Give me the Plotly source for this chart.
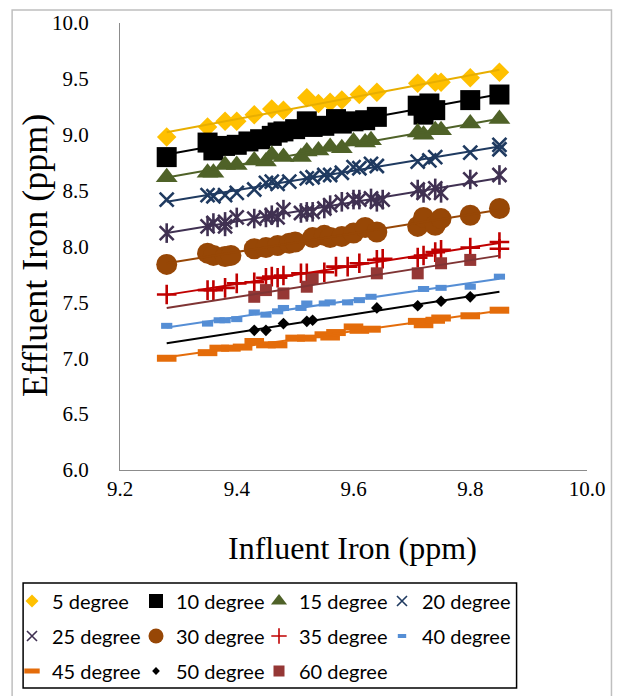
import numpy as np
import plotly.graph_objects as go

# ---------------- data ----------------
x5 = [9.28, 9.35, 9.38, 9.40, 9.43, 9.46, 9.48, 9.52, 9.54, 9.56, 9.58, 9.61, 9.64, 9.71, 9.74, 9.75, 9.80, 9.85]
y5 = [8.98, 9.07, 9.12, 9.12, 9.18, 9.23, 9.22, 9.33, 9.28, 9.29, 9.31, 9.36, 9.38, 9.46, 9.47, 9.47, 9.51, 9.56]

x10 = [9.28, 9.35, 9.36, 9.38, 9.40, 9.42, 9.44, 9.46, 9.47, 9.48, 9.50, 9.52, 9.53, 9.55, 9.57, 9.58, 9.60, 9.62, 9.64, 9.71, 9.72, 9.73, 9.74, 9.80, 9.85]
y10 = [8.80, 8.93, 8.86, 8.90, 8.91, 8.94, 8.96, 8.99, 9.02, 9.03, 9.05, 9.12, 9.07, 9.08, 9.14, 9.10, 9.12, 9.13, 9.16, 9.26, 9.18, 9.28, 9.22, 9.31, 9.36]

x15 = [9.28, 9.35, 9.36, 9.38, 9.40, 9.43, 9.45, 9.46, 9.48, 9.51, 9.52, 9.54, 9.56, 9.58, 9.60, 9.62, 9.63, 9.71, 9.72, 9.74, 9.75, 9.80, 9.85]
y15 = [8.62, 8.66, 8.66, 8.73, 8.73, 8.77, 8.76, 8.82, 8.80, 8.80, 8.85, 8.86, 8.89, 8.88, 8.94, 8.93, 8.95, 9.02, 9.00, 9.04, 9.04, 9.10, 9.14]

x20 = [9.28, 9.35, 9.36, 9.38, 9.40, 9.43, 9.45, 9.46, 9.47, 9.49, 9.52, 9.53, 9.55, 9.56, 9.58, 9.60, 9.61, 9.63, 9.64, 9.71, 9.73, 9.74, 9.80, 9.85, 9.85]
y20 = [8.42, 8.46, 8.45, 8.46, 8.48, 8.51, 8.57, 8.58, 8.56, 8.58, 8.61, 8.62, 8.64, 8.64, 8.66, 8.71, 8.70, 8.74, 8.72, 8.76, 8.77, 8.80, 8.84, 8.87, 8.91]

x25 = [9.28, 9.35, 9.36, 9.38, 9.38, 9.40, 9.43, 9.45, 9.46, 9.47, 9.48, 9.51, 9.52, 9.53, 9.55, 9.56, 9.58, 9.60, 9.61, 9.63, 9.64, 9.65, 9.71, 9.72, 9.74, 9.75, 9.80, 9.85]
y25 = [8.12, 8.18, 8.21, 8.22, 8.18, 8.26, 8.25, 8.26, 8.28, 8.26, 8.33, 8.30, 8.31, 8.31, 8.34, 8.37, 8.40, 8.42, 8.42, 8.43, 8.40, 8.42, 8.51, 8.48, 8.52, 8.48, 8.60, 8.64]

x30 = [9.28, 9.35, 9.36, 9.38, 9.39, 9.43, 9.45, 9.47, 9.49, 9.50, 9.53, 9.55, 9.56, 9.58, 9.60, 9.62, 9.64, 9.71, 9.72, 9.74, 9.75, 9.80, 9.85]
y30 = [7.84, 7.94, 7.92, 7.91, 7.92, 7.98, 7.99, 8.01, 8.03, 8.04, 8.08, 8.10, 8.08, 8.09, 8.12, 8.17, 8.13, 8.18, 8.26, 8.19, 8.25, 8.28, 8.34]

x35 = [9.28, 9.35, 9.36, 9.38, 9.40, 9.43, 9.45, 9.46, 9.47, 9.48, 9.51, 9.52, 9.55, 9.57, 9.59, 9.61, 9.64, 9.65, 9.71, 9.72, 9.74, 9.75, 9.80, 9.85, 9.85]
y35 = [7.57, 7.61, 7.61, 7.63, 7.67, 7.68, 7.72, 7.73, 7.72, 7.74, 7.76, 7.76, 7.77, 7.82, 7.82, 7.85, 7.88, 7.89, 7.90, 7.92, 7.95, 7.97, 7.99, 8.04, 7.98]

x40 = [9.28, 9.35, 9.37, 9.38, 9.40, 9.43, 9.45, 9.47, 9.48, 9.51, 9.52, 9.55, 9.56, 9.59, 9.61, 9.63, 9.72, 9.75, 9.80, 9.85]
y40 = [7.29, 7.31, 7.34, 7.34, 7.35, 7.41, 7.39, 7.42, 7.45, 7.45, 7.49, 7.49, 7.50, 7.50, 7.52, 7.55, 7.62, 7.63, 7.64, 7.73]

x45 = [9.28, 9.35, 9.37, 9.39, 9.41, 9.43, 9.45, 9.47, 9.50, 9.52, 9.55, 9.56, 9.57, 9.60, 9.61, 9.63, 9.71, 9.72, 9.74, 9.75, 9.80, 9.85]
y45 = [7.00, 7.05, 7.09, 7.09, 7.10, 7.15, 7.12, 7.12, 7.18, 7.18, 7.21, 7.19, 7.23, 7.28, 7.25, 7.26, 7.33, 7.30, 7.34, 7.36, 7.38, 7.43]

x50 = [9.43, 9.45, 9.48, 9.52, 9.53, 9.64, 9.71, 9.75, 9.80]
y50 = [7.25, 7.25, 7.31, 7.33, 7.34, 7.45, 7.47, 7.51, 7.55]

x60 = [9.43, 9.45, 9.48, 9.52, 9.53, 9.64, 9.71, 9.75, 9.80]
y60 = [7.55, 7.61, 7.58, 7.64, 7.71, 7.76, 7.76, 7.85, 7.88]

names = ["5 degree", "10 degree", "15 degree", "20 degree", "25 degree", "30 degree",
         "35 degree", "40 degree", "45 degree", "50 degree", "60 degree"]

x_ticks = [9.2, 9.4, 9.6, 9.8, 10.0]
y_ticks = [6.0, 6.5, 7.0, 7.5, 8.0, 8.5, 9.0, 9.5, 10.0]

# ---------------- styling ----------------
W, H = 623, 696
PL, PR, PT, PB = 120, 587.5, 23, 470  # plot area in pixels


def fx(p):
    return (p - PL) / (PR - PL)


def fy(p):
    return (PB - p) / (PB - PT)


styles = [
    # color, symbol, size, line width, legend symbol, legend size, legend lw
    ("#FFC000", "diamond", 15, 0, "diamond", 10, 0),
    ("#000000", "square", 20, 0, "square", 14, 0),
    ("#4F6228", "triangle-up", 19, 0, "triangle-up", 14, 0),
    ("#1F3A60", "x-thin-open", 14, 2.6, "x-thin-open", 10, 1.6),
    ("#403152", "x-thin-open", 14, 2.6, "x-thin-open", 10, 1.6),
    ("#974706", "circle", 21, 0, "circle", 15, 0),
    ("#C00000", "cross-thin-open", 14, 2.6, "cross-thin-open", 11, 1.6),
    ("#558ED5", "line-ew-open", 8, 6, "line-ew-open", 6, 4),
    ("#E46C0A", "line-ew-open", 14, 7, "line-ew-open", 11, 5),
    ("#000000", "diamond", 9, 0, "diamond", 6, 0),
    ("#953735", "square", 12, 0, "square", 11, 0),
]
trend_colors = ["#E8AE00", "#000000", "#4F6228", "#1F3A60", "#403152", "#974706",
                "#C00000", "#558ED5", "#E46C0A", "#000000", "#7F3434"]

xs = [x5, x10, x15, x20, x25, x30, x35, x40, x45, x50, x60]
ys = [y5, y10, y15, y20, y25, y30, y35, y40, y45, y50, y60]

fig = go.Figure()

# markers
for i, (name, xv, yv, st) in enumerate(zip(names, xs, ys, styles)):
    color, sym, size, lw = st[0], st[1], st[2], st[3]
    fig.add_trace(go.Scatter(
        x=xv, y=yv, mode="markers", name=name, showlegend=False,
        marker=dict(symbol=sym, size=size, color=color,
                    line=dict(width=lw, color=color)),
    ))
    if name == "25 degree":
        # vertical bar of the star marker
        fig.add_trace(go.Scatter(
            x=xv, y=yv, mode="markers", showlegend=False,
            marker=dict(symbol="line-ns-open", size=size, color=color,
                        line=dict(width=lw, color=color)),
        ))

# linear trendlines (least squares, drawn across the full influent range)
all_x = np.concatenate([np.asarray(v, dtype=float) for v in xs])
tx = np.array([all_x.min(), all_x.max()])
for i, (xv, yv) in enumerate(zip(xs, ys)):
    k, b = np.polyfit(np.asarray(xv, float), np.asarray(yv, float), 1)
    fig.add_trace(go.Scatter(
        x=tx, y=k * tx + b, mode="lines", showlegend=False, hoverinfo="skip",
        line=dict(color=trend_colors[i], width=2),
    ))

# legend entries: 4 columns x 3 rows, one legend per entry for exact placement
text_starts = [53, 177, 300, 423]
row_centers = [601, 636, 671]
layout_legends = {}
for i, (name, st) in enumerate(zip(names, styles)):
    color, lsym, lsize, llw = st[0], st[4], st[5], st[6]
    key = "legend" if i == 0 else "legend%d" % (i + 1)
    r, c = divmod(i, 4)
    fig.add_trace(go.Scatter(
        x=[None], y=[None], mode="markers", name=name, showlegend=True, legend=key,
        marker=dict(symbol=lsym, size=lsize, color=color, line=dict(width=llw, color=color)),
    ))
    layout_legends[key] = dict(
        xref="container", yref="container",
        x=(text_starts[c] - 41) / W, y=1 - row_centers[r] / H,
        xanchor="left", yanchor="middle", orientation="h",
        bgcolor="rgba(0,0,0,0)", borderwidth=0,
        font=dict(family="Lato", size=20, color="#000000"),
        itemclick=False, itemdoubleclick=False,
    )

tick_font = dict(family="Liberation Serif, Times New Roman, serif", size=21, color="#000000")
axis_common = dict(
    showline=True, linecolor="#8C8C8C", linewidth=1, showgrid=False,
    zeroline=False, ticks="", tickformat=".1f", tickfont=tick_font,
)

fig.update_layout(
    width=W, height=H,
    font=dict(family="Liberation Serif", size=21, color="#000000"),
    margin=dict(l=PL, r=W - PR, t=PT, b=H - PB, pad=0, autoexpand=False),
    paper_bgcolor="#FFFFFF", plot_bgcolor="#FFFFFF",
    xaxis=dict(range=[9.2, 10.0], tickvals=x_ticks, ticklabelstandoff=0, **axis_common),
    yaxis=dict(range=[6.0, 10.0], tickvals=y_ticks, ticklabelstandoff=26, **axis_common),
    **layout_legends,
    annotations=[
        dict(text="Influent Iron (ppm)", xref="paper", yref="paper",
             x=fx(353), y=fy(548), xanchor="center", yanchor="middle", showarrow=False,
             font=dict(family="Liberation Serif", size=32, color="#000000")),
        dict(text="Effluent Iron (ppm)", xref="paper", yref="paper", textangle=-90,
             x=fx(35), y=fy(256), xanchor="center", yanchor="middle", showarrow=False,
             font=dict(family="Liberation Serif", size=36, color="#000000")),
    ],
    shapes=[
        dict(type="rect", xref="paper", yref="paper",
             x0=fx(12), x1=fx(612), y0=fy(10), y1=fy(705),
             line=dict(color="#BFBFBF", width=1.5), fillcolor="rgba(0,0,0,0)", layer="below"),
        dict(type="rect", xref="paper", yref="paper",
             x0=fx(23), x1=fx(517), y0=fy(583), y1=fy(688),
             line=dict(color="#000000", width=1.5), fillcolor="rgba(0,0,0,0)"),
    ],
)
fig.update_xaxes(tickfont=tick_font)
fig.update_yaxes(tickfont=tick_font)

fig.write_html("out.html", config={"displayModeBar": False},
               post_script="document.body.style.margin='0px';")
